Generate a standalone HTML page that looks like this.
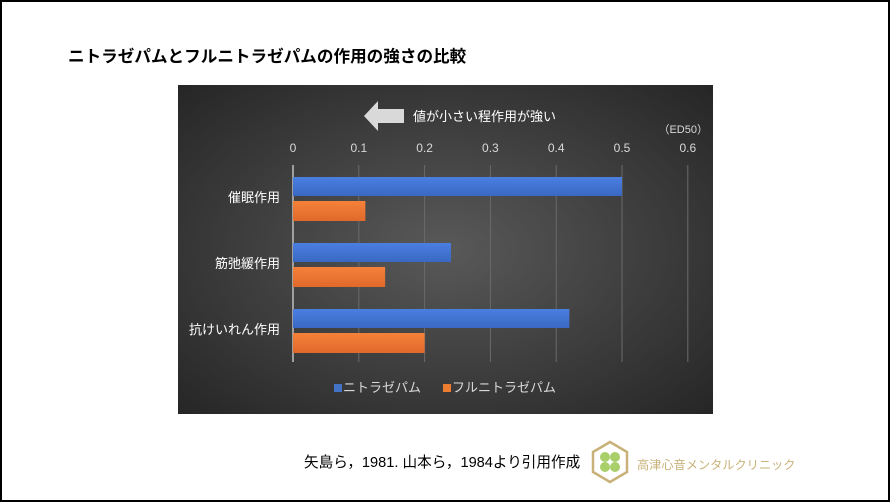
<!DOCTYPE html>
<html><head><meta charset="utf-8"><style>
body{margin:0;width:890px;height:502px;background:#fff;overflow:hidden;font-family:"Liberation Sans","Noto Sans CJK JP",sans-serif}
#frame{position:absolute;left:0;top:0;width:886px;height:498px;border:2px solid #000}
</style></head><body>
<div id="frame"></div>
<div style="position:absolute;left:68px;top:43px;font-size:16.6px;font-weight:bold;color:#000">ニトラゼパムとフルニトラゼパムの作用の強さの比較</div>
<svg width="890" height="502" style="position:absolute;left:0;top:0">
<defs><radialGradient id="bg" cx="50%" cy="50%" r="70%"><stop offset="0" stop-color="#595959"/><stop offset="1" stop-color="#262626"/></radialGradient>
<linearGradient id="gb" x1="0" y1="0" x2="0" y2="1"><stop offset="0" stop-color="#4a7fe0"/><stop offset="1" stop-color="#3a68c4"/></linearGradient>
<linearGradient id="go" x1="0" y1="0" x2="0" y2="1"><stop offset="0" stop-color="#f5813a"/><stop offset="1" stop-color="#e0692a"/></linearGradient></defs>
<rect x="178" y="85" width="535" height="329" fill="url(#bg)"/>
<g id="g"></g>
<polygon points="364,116 378,101 378,109 404,109 404,123 378,123 378,131" fill="#d9d9d9"/>
<text x="413" y="121" fill="#fff" font-size="13">値が小さい程作用が強い</text>
<text x="708" y="133" fill="#d9d9d9" font-size="11" text-anchor="end">（ED50）</text>
<rect x="334" y="384" width="8" height="8" fill="#4472c4"/>
<text x="343" y="392" fill="#d9d9d9" font-size="13">ニトラゼパム</text>
<rect x="443" y="384" width="8" height="8" fill="#ed7d31"/>
<text x="452" y="392" fill="#d9d9d9" font-size="13">フルニトラゼパム</text>
</svg>
<div style="position:absolute;left:304px;top:451px;font-size:14.6px;color:#000">矢島ら，1981. 山本ら，1984より引用作成</div>
<svg width="40" height="44" style="position:absolute;left:590px;top:440px">
<polygon points="20,2 37,12 37,32 20,42 3,32 3,12" fill="none" stroke="#c9b27a" stroke-width="2.5"/>
<circle cx="15" cy="17" r="5" fill="#a8cf6a"/><circle cx="25" cy="17" r="5" fill="#a8cf6a"/><circle cx="15" cy="27" r="5" fill="#a8cf6a"/><circle cx="25" cy="27" r="5" fill="#a8cf6a"/></svg>
<div style="position:absolute;left:637px;top:455px;font-size:12.2px;color:#c9b27a">高津心音メンタルクリニック</div>
<script>
const categories=["催眠作用","筋弛緩作用","抗けいれん作用"];
const nitrazepam=[0.5,0.24,0.42];
const flunitrazepam=[0.11,0.14,0.2];
const ticks=[0,0.1,0.2,0.3,0.4,0.5,0.6];
const NS="http://www.w3.org/2000/svg",g=document.getElementById('g');
const x=v=>293+v*658;
const y0=i=>176+i*66;
function el(t,a){const e=document.createElementNS(NS,t);for(const k in a)e.setAttribute(k,a[k]);g.appendChild(e);return e;}
ticks.forEach(t=>{
 const l=el('line',{x1:x(t),x2:x(t),y1:165,y2:362,stroke:t===0?'#bfbfbf':'#6a6a6a','stroke-width':t===0?1.5:1});
 
 
 const tx=el('text',{x:x(t),y:152,fill:'#d9d9d9','font-size':12,'text-anchor':'middle'});tx.textContent=String(t);
 
 
});
categories.forEach((c,i)=>{
 const t=el('text',{x:280,y:y0(i)+26,fill:'#fff','font-size':13,'text-anchor':'end'});t.textContent=c;
 
 
 const b=el('rect',{x:x(0),y:y0(i)+1,width:x(nitrazepam[i])-x(0),height:19,fill:'url(#gb)'});
 
 
 const o=el('rect',{x:x(0),y:y0(i)+25,width:x(flunitrazepam[i])-x(0),height:20,fill:'url(#go)'});
 
 
});
</script>
</body></html>
